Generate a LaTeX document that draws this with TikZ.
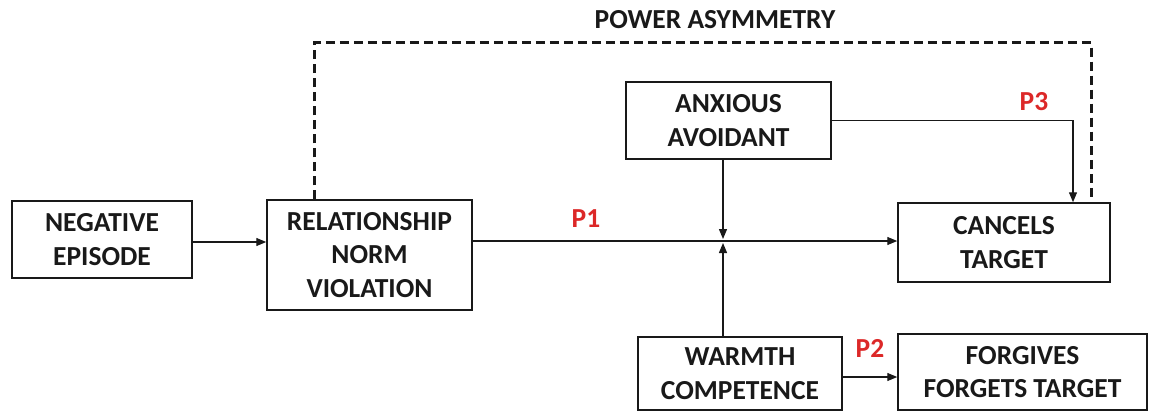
\documentclass[tikz,border=0pt]{standalone}
\usepackage{fontspec}
\setmainfont{Carlito}
\usetikzlibrary{arrows.meta}
\definecolor{labred}{RGB}{220,40,40}
\definecolor{ink}{RGB}{25,25,25}
\begin{document}
\begin{tikzpicture}[x=1pt,y=-1pt,
  box/.style={draw=ink,line width=1.5pt,align=center,inner sep=0pt,
    font=\fontsize{27.5}{33.5}\selectfont\bfseries,text=ink},
  conn/.style={draw=ink,line width=1.3pt,-{Triangle[length=10pt,width=8pt]}},
  plab/.style={font=\fontsize{27.5}{30}\selectfont\bfseries,text=labred},
  dashline/.style={draw=ink,line width=3pt,dash pattern=on 9pt off 5pt}]
\useasboundingbox (0,0) rectangle (1149,412);
\node[box,minimum width=180pt,minimum height=77pt] (neg) at (102,239.5) {NEGATIVE\\EPISODE};
\node[box,minimum width=205pt,minimum height=110pt] (rel) at (369.5,255) {RELATIONSHIP\\NORM\\VIOLATION};
\node[box,minimum width=205pt,minimum height=77pt] (anx) at (728.5,120.5) {ANXIOUS\\AVOIDANT};
\node[box,minimum width=212pt,minimum height=79pt] (can) at (1004,242.5) {CANCELS\\TARGET};
\node[box,minimum width=204pt,minimum height=73pt] (warm) at (740,373.5) {WARMTH\\COMPETENCE};
\node[box,minimum width=249pt,minimum height=76pt] (forg) at (1022.5,372) {FORGIVES\\FORGETS TARGET};
\coordinate (J) at (723,241);
\coordinate (dl) at (314,43);
\coordinate (dr) at (1091,43);
\node[font=\fontsize{27.5}{30}\selectfont\bfseries,text=ink] (pa) at (715,20) {POWER ASYMMETRY};
\node[plab] (p1) at (586,219) {P1};
\node[plab] (p3) at (1034,102) {P3};
\node[plab] (p2) at (870,348) {P2};
\draw[conn] (neg.east |- 0,242) -- (rel.west |- 0,242);
\draw[conn] (rel.east |- J) -- (can.west |- J);
\draw[conn] (anx.south -| J) -- ([yshift=2pt]J);
\draw[conn] (warm.north -| J) -- ([yshift=-2pt]J);
\draw[conn] (anx.east) -| ([xshift=69pt]can.north);
\draw[conn] ([yshift=-3.5pt]warm.east) -- ([yshift=-3.5pt]warm.east -| forg.west);
\draw[dashline] (rel.north -| dl) -- (dl) -- (dr) -- ([yshift=5pt]can.north -| dr);
\end{tikzpicture}
\end{document}
